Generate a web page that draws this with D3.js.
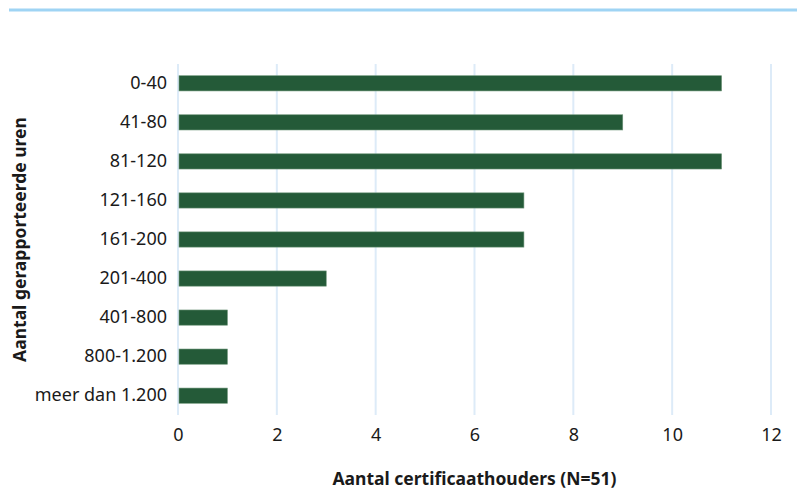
<!DOCTYPE html>
<html>
<head>
<meta charset="utf-8">
<script src="https://cdn.jsdelivr.net/npm/d3@7"></script>
<style>
  body { margin: 0; background: #fff; }
  text { font-family: "Noto Sans", "Open Sans", sans-serif; fill: #1a1a1a; }
</style>
</head>
<body>
<div id="canvas"></div>
<script>
const categories = ["0-40", "41-80", "81-120", "121-160", "161-200", "201-400", "401-800", "800-1.200", "meer dan 1.200"];
const values = [11, 9, 11, 7, 7, 3, 1, 1, 1];
const xTicks = [0, 2, 4, 6, 8, 10, 12];

const width = 797;
const height = 490;
const margin = { top: 64, left: 178, bottom: 75, right: 26 };
const iwidth = width - margin.left - margin.right;
const iheight = height - margin.top - margin.bottom;

const svg = d3.select("#canvas").append("svg")
    .attr("width", width)
    .attr("height", height);

// top rule
svg.append("line")
    .attr("x1", 9).attr("x2", width)
    .attr("y1", 10).attr("y2", 10)
    .attr("stroke", "#9fd4f4")
    .attr("stroke-width", 3);

const g = svg.append("g").attr("transform", `translate(${margin.left},${margin.top})`);

const x = d3.scaleLinear().domain([0, 12]).range([0, iwidth]);
const y = d3.scaleBand().domain(categories).range([0, iheight]).paddingInner(0.61).paddingOuter(0.3);

// gridlines
g.selectAll("line.grid").data(xTicks).enter().append("line")
    .attr("class", "grid")
    .attr("x1", d => x(d)).attr("x2", d => x(d))
    .attr("y1", 0).attr("y2", iheight)
    .attr("stroke", "#ddebf8")
    .attr("stroke-width", 2);

g.selectAll("rect").data(values).enter().append("rect")
    .attr("x", x(0) + 1)
    .attr("y", (d, i) => y(categories[i]))
    .attr("width", d => x(d) - x(0) - 1)
    .attr("height", y.bandwidth())
    .attr("fill", "#245a38")
    .attr("stroke", "#6f967a")
    .attr("stroke-width", 0.6);

const xAxis = g.append("g")
    .attr("transform", `translate(0, ${iheight})`)
    .call(d3.axisBottom(x).tickValues(xTicks).tickSize(0).tickPadding(13).tickFormat(d3.format("d")));
xAxis.select(".domain").remove();
xAxis.selectAll("text").style("font-size", "18px").attr("fill", "#1a1a1a");

const yAxis = g.append("g")
    .call(d3.axisLeft(y).tickSize(0).tickPadding(11));
yAxis.select(".domain").remove();
yAxis.selectAll("text").style("font-size", "18px").attr("fill", "#1a1a1a");

svg.append("text")
    .attr("text-anchor", "middle")
    .attr("x", margin.left + iwidth / 2)
    .attr("y", 485)
    .style("font-size", "17.5px")
    .style("font-weight", "bold")
    .text("Aantal certificaathouders (N=51)");

svg.append("text")
    .attr("text-anchor", "middle")
    .attr("transform", `translate(26, ${margin.top + iheight / 2}) rotate(-90)`)
    .style("font-size", "17.5px")
    .style("font-weight", "bold")
    .text("Aantal gerapporteerde uren");
</script>
</body>
</html>
